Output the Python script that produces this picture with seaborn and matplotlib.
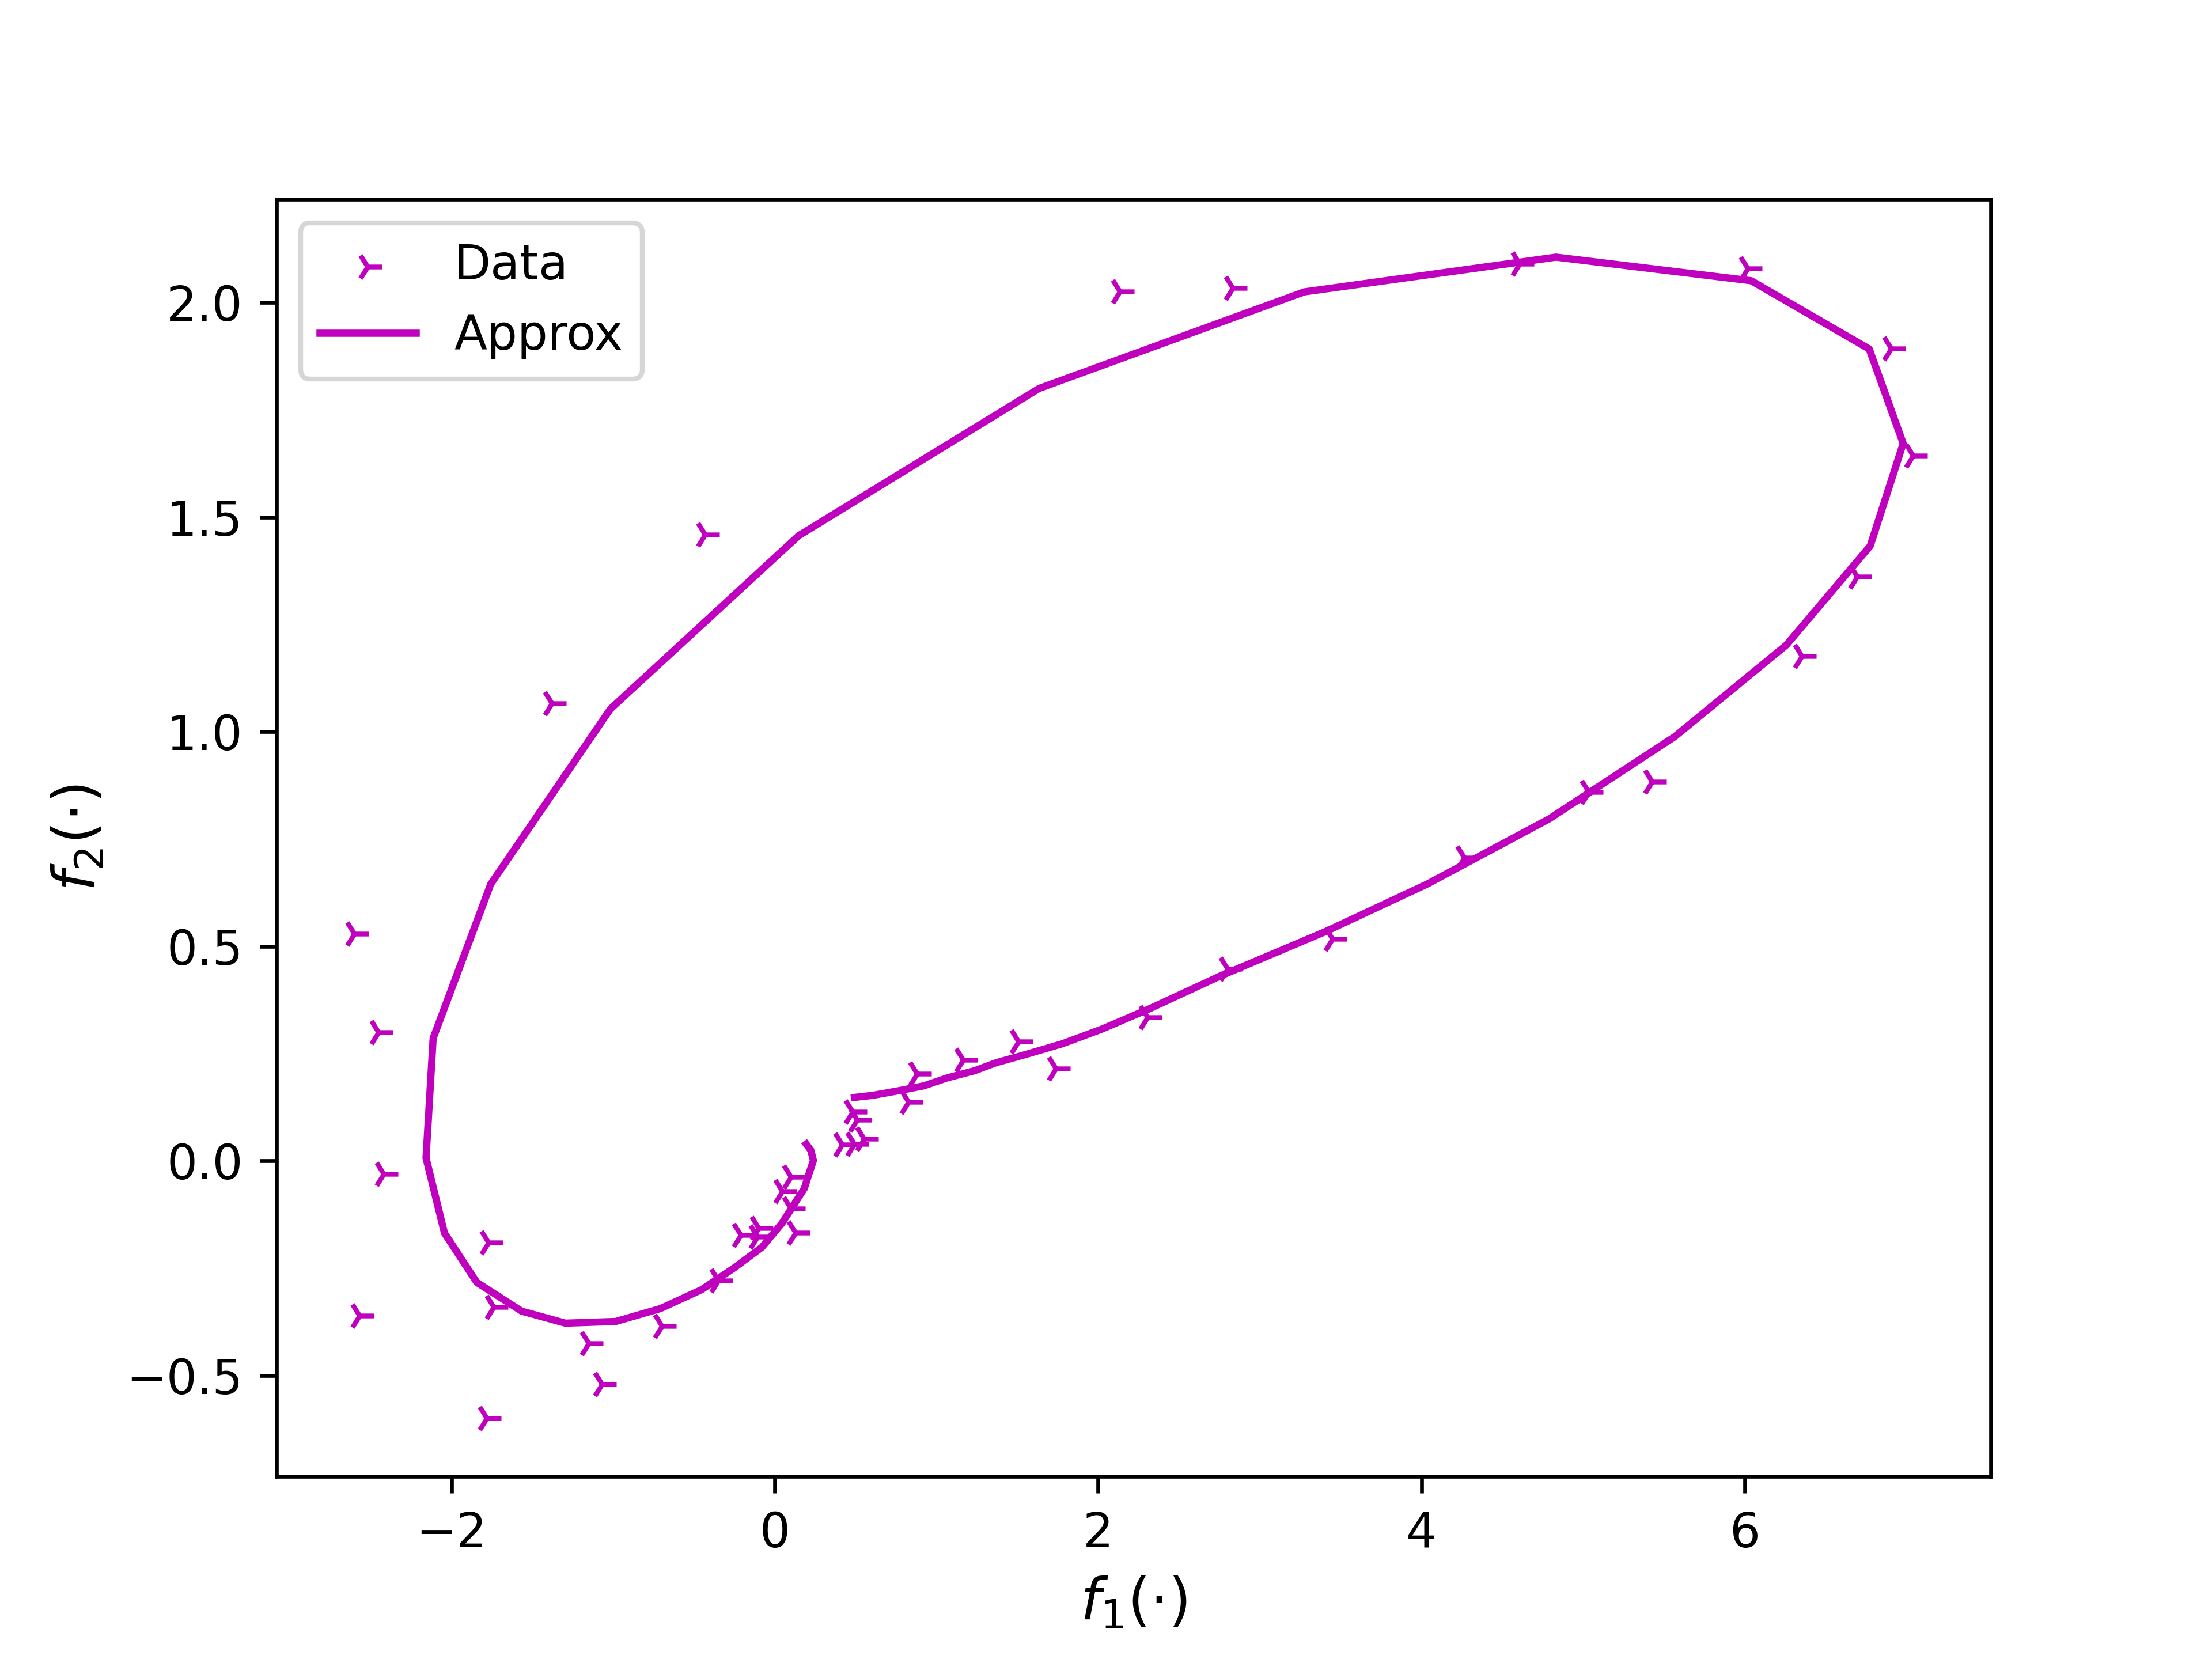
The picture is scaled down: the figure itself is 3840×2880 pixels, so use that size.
import matplotlib
matplotlib.use("Agg")
import matplotlib.pyplot as plt
import seaborn as sns
import numpy as np

# noisy samples
data_x = [-2.60, -2.45, -2.42, -2.57, -1.77, -1.74, -1.78, -1.15, -1.07, -0.70,
          -0.35, -0.21, -0.10, -0.107, 0.13, 0.10, 0.045, 0.10, 0.416, 0.493,
          0.552, 0.481, 0.511, 0.826, 0.88, 1.165, 1.506, 1.74, 2.305, 2.80,
          3.45, 4.267, 5.035, 5.426, 6.355, 6.695, 7.04, 6.905, 6.02, 4.608,
          2.833, 2.135, -0.43, -1.38]
data_y = [0.53, 0.30, -0.03, -0.36, -0.19, -0.34, -0.60, -0.425, -0.52, -0.385,
          -0.278, -0.172, -0.156, -0.177, -0.167, -0.111, -0.07, -0.037, 0.038, 0.040,
          0.051, 0.114, 0.096, 0.137, 0.203, 0.235, 0.279, 0.215, 0.335, 0.447,
          0.517, 0.706, 0.859, 0.884, 1.177, 1.362, 1.644, 1.893, 2.080, 2.091,
          2.034, 2.026, 1.46, 1.066]

# approximating curve
approx_x = [0.493, 0.609, 0.772, 0.922, 1.071, 1.234, 1.37, 1.533, 1.778, 2.022,
            2.32, 2.75, 3.41, 4.04, 4.79, 5.568, 6.257, 6.776, 6.98, 6.77,
            6.04, 4.833, 3.275, 1.635, 0.148, -1.017, -1.757, -2.113, -2.157, -2.043,
            -1.843, -1.566, -1.295, -0.983, -0.707, -0.453, -0.254, -0.079, 0.045, 0.183,
            0.215, 0.239, 0.223, 0.195]
approx_y = [0.148, 0.153, 0.164, 0.175, 0.194, 0.210, 0.229, 0.246, 0.273, 0.307,
            0.355, 0.43, 0.535, 0.646, 0.797, 0.989, 1.202, 1.433, 1.672, 1.892,
            2.051, 2.106, 2.025, 1.800, 1.457, 1.053, 0.645, 0.286, 0.007, -0.168,
            -0.283, -0.350, -0.378, -0.374, -0.344, -0.300, -0.250, -0.201, -0.145, -0.064,
            -0.026, 0.001, 0.025, 0.039]

fig, ax = plt.subplots(figsize=(6.4, 4.8), dpi=600)

sns.scatterplot(x=np.array(data_x), y=np.array(data_y), marker='4', s=36,
                color='m', linewidth=1.0, label='Data', ax=ax)
sns.lineplot(x=np.array(approx_x), y=np.array(approx_y), sort=False, estimator=None,
             color='m', linewidth=1.5, label='Approx', ax=ax)

ax.set_xlabel(r'$f_1(\cdot)$', fontsize=12)
ax.set_ylabel(r'$f_2(\cdot)$', fontsize=12)
ax.legend(loc='upper left')

fig.savefig('out.png', dpi=600)
